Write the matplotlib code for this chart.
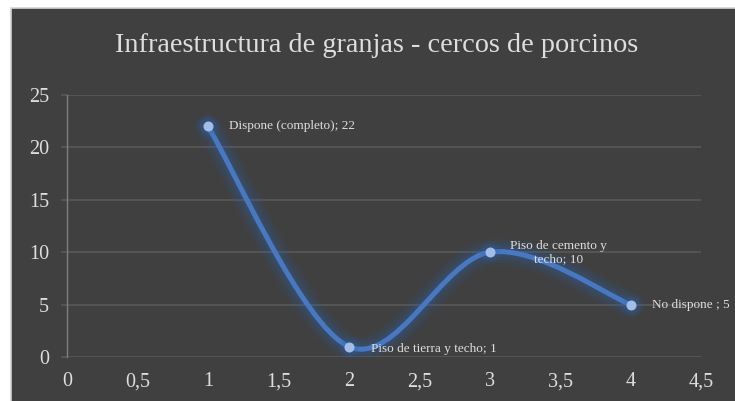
import numpy as np
import matplotlib
matplotlib.use("Agg")
from matplotlib import pyplot as plt
from matplotlib.path import Path
from matplotlib.patches import PathPatch, Rectangle

# ---------------------------------------------------------------------------------------------------
# Data
# ---------------------------------------------------------------------------------------------------
title = "Infraestructura de granjas - cercos de porcinos"
x_vals = [1, 2, 3, 4]
y_vals = [22, 1, 10, 5]
point_labels = ["Dispone (completo); 22", "Piso de tierra y techo; 1",
                "Piso de cemento y\ntecho; 10", "No dispone ; 5"]
x_ticks = [0, 0.5, 1, 1.5, 2, 2.5, 3, 3.5, 4, 4.5]
y_ticks = [0, 5, 10, 15, 20, 25]

# ---------------------------------------------------------------------------------------------------
# Helpers
# ---------------------------------------------------------------------------------------------------
def smooth_path(xs, ys) -> Path:
    """Bezier path through the points (Catmull-Rom style, like a spreadsheet smoothed line)."""
    pts = np.column_stack([xs, ys]).astype(float)
    n = len(pts)
    verts = [pts[0]]
    codes = [Path.MOVETO]
    for i in range(n - 1):
        p_prev = pts[max(i - 1, 0)]
        p0 = pts[i]
        p1 = pts[i + 1]
        p_next = pts[min(i + 2, n - 1)]
        c1 = p0 + (p1 - p_prev) / 6.0
        c2 = p1 - (p_next - p0) / 6.0
        verts += [c1, c2, p1]
        codes += [Path.CURVE4] * 3
    return Path(verts, codes)

# ---------------------------------------------------------------------------------------------------
# Plot
# ---------------------------------------------------------------------------------------------------
plt.rcParams["font.family"] = ["Liberation Serif", "DejaVu Serif"]
bg = "#404040"
grid_col = "#595959"
text_col = "#dedede"

fig = plt.figure(figsize=(7.35, 4.01), dpi=100, facecolor="white")
fig.patches.append(Rectangle((10.5 / 735, -0.01), 1.0, (401 - 8.5) / 401 + 0.01,
                             transform=fig.transFigure, facecolor=bg,
                             edgecolor="#d4d4d4", linewidth=1.2, zorder=-10))

ax = fig.add_axes([67 / 735, 44 / 401, 634 / 735, 262 / 401])
ax.set_zorder(1)
ax.set_facecolor(bg)
ax.set_xlim(0, 4.5)
ax.set_ylim(0, 25)
ax.set_xticks(x_ticks)
ax.set_xticklabels([f"{t:g}".replace(".", ",") for t in x_ticks])
ax.set_yticks(y_ticks)
ax.grid(axis="y", color=grid_col, linewidth=1.2)
ax.set_axisbelow(True)
for side in ["top", "right", "bottom"]:
    ax.spines[side].set_visible(False)
ax.spines["left"].set_color("#7f7f7f")
ax.spines["left"].set_linewidth(1.0)
ax.tick_params(axis="y", colors=grid_col, labelcolor=text_col, labelsize=14.5,
               length=4.5, width=1.2, pad=8.5)
ax.tick_params(axis="x", length=0, labelcolor=text_col, labelsize=14.5, pad=11)

# glow behind the line
path = smooth_path(x_vals, y_vals)
for lw, a in [(20, 0.05), (16, 0.07), (12, 0.09), (8, 0.12)]:
    ax.add_patch(PathPatch(path, fill=False, edgecolor="#2a68c0", linewidth=lw,
                           alpha=a, capstyle="round", joinstyle="round", zorder=2))
ax.add_patch(PathPatch(path, fill=False, edgecolor="#4878c2", linewidth=3.6,
                       capstyle="round", zorder=3))
for ms, a in [(16, 0.10), (12, 0.15)]:
    ax.plot(x_vals, y_vals, "o", markersize=ms, color="#2a68c0", alpha=a,
            markeredgewidth=0, zorder=3)
ax.plot(x_vals, y_vals, "o", markersize=6.2, color="#a3bde6", zorder=4)

offsets = [(21, 0), (22, -2), (20, 0), (21, 0)]
for x, y, lab, off in zip(x_vals, y_vals, point_labels, offsets):
    ax.annotate(lab, (x, y), xytext=off, textcoords="offset pixels",
                ha="left", va="center", multialignment="center",
                color=text_col, fontsize=9.5, linespacing=1.15, zorder=5)

fig.text(0.513, 1 - 46 / 401, title, ha="center", va="center",
         color=text_col, fontsize=20.3)

fig.savefig("out.png", dpi=100, facecolor=fig.get_facecolor())
